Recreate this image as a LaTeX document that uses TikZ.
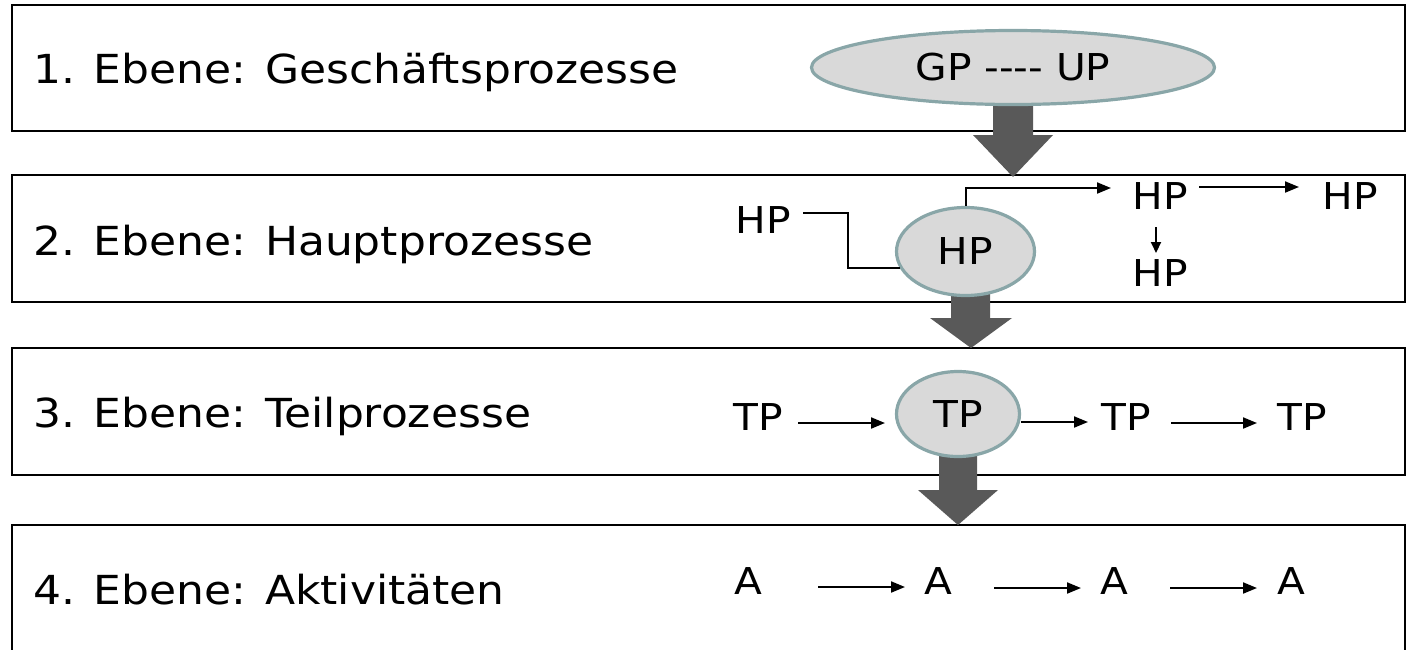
\documentclass[tikz,border=0pt]{standalone}
\usepackage{fontspec}
\setmainfont{DejaVu Sans}[FakeStretch=1.1]
\usetikzlibrary{shapes.geometric,arrows.meta}
\definecolor{procfill}{RGB}{217,217,217}
\definecolor{procline}{RGB}{137,166,168}
\definecolor{bigarrow}{RGB}{89,89,89}
\begin{document}
\begin{tikzpicture}[x=1pt,y=-1pt,
  levelbox/.style={draw=black,line width=2.5pt},
  levellabel/.style={anchor=base west,inner sep=0pt,font=\fontsize{40}{48}\selectfont},
  proc/.style={ellipse,draw=procline,fill=procfill,line width=3.2pt,inner sep=0pt,font=\fontsize{37}{44}\selectfont},
  item/.style={inner sep=0pt,font=\fontsize{37}{44}\selectfont},
  link/.style={draw=black,line width=2pt},
  flow/.style={link,-{Triangle[length=14pt,width=11pt]}},
  smallflow/.style={link,-{Triangle[length=11pt,width=10pt]}},
  bigarr/.style={fill=bigarrow}]
\useasboundingbox (0,0) rectangle (1406,649);

% level boxes
\draw[levelbox] (12,5) rectangle (1405,131);
\draw[levelbox] (12,175) rectangle (1405,302);
\draw[levelbox] (12,348) rectangle (1405,475);
\draw[levelbox] (12,525) rectangle (1405,670);

% level labels
\node[levellabel] (l1) at (33,83) {1. Ebene: Geschäftsprozesse};
\node[levellabel] (l2) at (33,255) {2. Ebene: Hauptprozesse};
\node[levellabel] (l3) at (33,427) {3. Ebene: Teilprozesse};
\node[levellabel] (l4) at (33,604) {4. Ebene: Aktivitäten};

% big block arrows
\fill[bigarr] (993,95) -- (1033,95) -- (1033,135) -- (1053,135) -- (1013,177) -- (973,135) -- (993,135) -- cycle;
\fill[bigarr] (951,285) -- (990,285) -- (990,318) -- (1012,318) -- (971,348) -- (930,318) -- (951,318) -- cycle;
\fill[bigarr] (939,445) -- (977,445) -- (977,490) -- (998,490) -- (958,525) -- (918,490) -- (939,490) -- cycle;

% level 1
\node[proc,minimum width=403pt,minimum height=74pt] (gp) at (1013,67.5) {GP -{}-{}-{}- UP};

% level 2
\node[proc,minimum width=138pt,minimum height=88pt] (hpc) at (965.5,251.5) {HP};
\node[item] (hpL) at (763,220) {HP};
\node[item] (hp1) at (1160,196.5) {HP};
\node[item] (hp2) at (1350,196.5) {HP};
\node[item] (hp3) at (1160,273.5) {HP};
\draw[link] ([xshift=40pt,yshift=7pt]hpL.center) -- ++(45,0) |- (hpc.194);
\draw[flow] (hpc.north) |- ([xshift=-49pt,yshift=8.5pt]hp1.center);
\draw[flow] ([xshift=39pt,yshift=9.5pt]hp1.center) -- ([xshift=-51pt,yshift=9.5pt]hp2.center);
\draw[smallflow] ([xshift=-4pt,yshift=-30.5pt]hp1.center) -- ([xshift=-4pt,yshift=20.5pt]hp3.center);

% level 3
\node[proc,minimum width=123pt,minimum height=85pt] (tpc) at (958,414) {TP};
\node[item] (tpL) at (758,417) {TP};
\node[item] (tp2) at (1126,417) {TP};
\node[item] (tp3) at (1302,417) {TP};
\draw[flow] ([xshift=40pt,yshift=-6pt]tpL.center) -- ([xshift=-73pt,yshift=-9pt]tpc.center);
\draw[flow] ([yshift=-8pt]tpc.east) -- ([xshift=-38pt,yshift=-5pt]tp2.center);
\draw[flow] ([xshift=45pt,yshift=-6pt]tp2.center) -- ([xshift=-45pt,yshift=-6pt]tp3.center);

% level 4
\node[item] (a1) at (748,581) {A};
\node[item] (a2) at (938,581) {A};
\node[item] (a3) at (1114,581) {A};
\node[item] (a4) at (1291,581) {A};
\draw[flow] ([xshift=70pt,yshift=-6pt]a1.center) -- ([xshift=-33pt,yshift=-6pt]a2.center);
\draw[flow] ([xshift=56pt,yshift=-7pt]a2.center) -- ([xshift=-33pt,yshift=-7pt]a3.center);
\draw[flow] ([xshift=56pt,yshift=-7pt]a3.center) -- ([xshift=-34pt,yshift=-7pt]a4.center);
\end{tikzpicture}
\end{document}
